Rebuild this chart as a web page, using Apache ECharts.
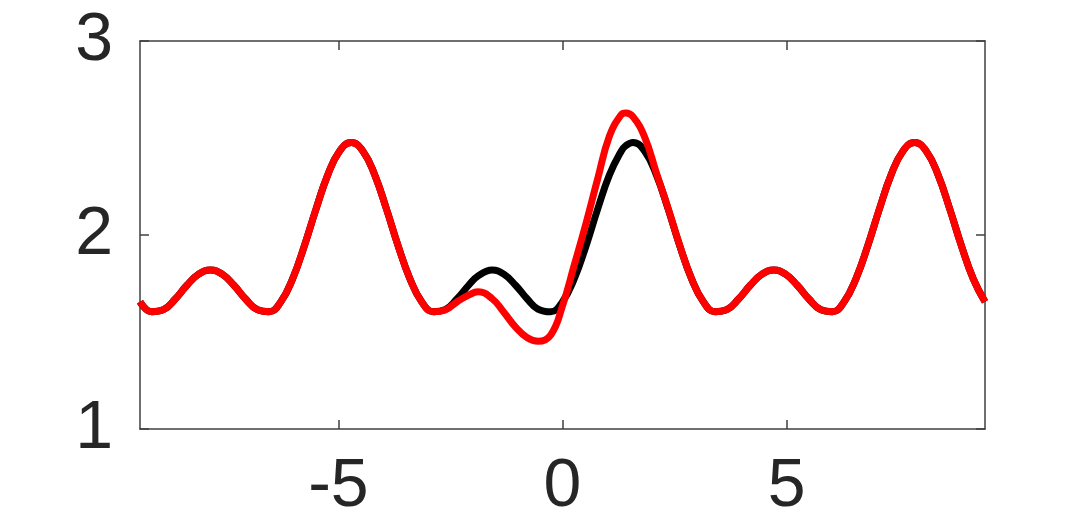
<!DOCTYPE html>
<html>
<head>
<meta charset="utf-8">
<script src="https://cdn.jsdelivr.net/npm/echarts@6/dist/echarts.min.js"></script>
<style>
html,body{margin:0;padding:0;background:#fff;}
#chart{width:1087px;height:529px;}
</style>
</head>
<body>
<div id="chart"></div>
<script>
// sample positions along x
var xValues = [
 -9.425,-9.163,-8.901,-8.639,-8.378,-8.116,-7.854,-7.592,-7.330,-7.069,-6.807,-6.545,
 -6.283,-6.021,-5.760,-5.498,-5.236,-4.974,-4.712,-4.451,-4.189,-3.927,-3.665,-3.403,
 -3.142,-2.880,-2.618,-2.356,-2.094,-1.882,-1.571,-1.309,-1.047,-0.785,-0.547,-0.262,
 0,0.262,0.524,0.785,1.047,1.309,1.410,1.571,1.833,2.094,2.356,2.618,2.880,
 3.142,3.403,3.665,3.927,4.189,4.451,4.712,4.974,5.236,5.498,5.760,6.021,
 6.283,6.545,6.807,7.069,7.330,7.592,7.854,8.116,8.378,8.639,8.901,9.163,9.425
];
// black curve
var blackValues = [
 1.656,1.604,1.615,1.670,1.741,1.798,1.820,1.798,1.741,1.670,1.615,1.604,
 1.656,1.774,1.943,2.134,2.310,2.432,2.477,2.432,2.310,2.134,1.943,1.774,
 1.656,1.604,1.615,1.670,1.741,1.789,1.820,1.798,1.741,1.670,1.618,1.604,
 1.656,1.774,1.943,2.134,2.310,2.432,2.460,2.477,2.432,2.310,2.134,1.943,1.774,
 1.656,1.604,1.615,1.670,1.741,1.798,1.820,1.798,1.741,1.670,1.615,1.604,
 1.656,1.774,1.943,2.134,2.310,2.432,2.477,2.432,2.310,2.134,1.943,1.774,
 1.656
];
// red curve
var redValues = [
 1.656,1.604,1.615,1.670,1.741,1.798,1.820,1.798,1.741,1.670,1.615,1.604,
 1.656,1.774,1.943,2.134,2.310,2.432,2.477,2.432,2.310,2.134,1.943,1.774,
 1.656,1.604,1.613,1.655,1.690,1.707,1.672,1.602,1.525,1.470,1.452,1.485,
 1.635,1.845,2.060,2.290,2.510,2.620,2.629,2.610,2.505,2.320,2.138,1.944,1.774,
 1.656,1.604,1.615,1.670,1.741,1.798,1.820,1.798,1.741,1.670,1.615,1.604,
 1.656,1.774,1.943,2.134,2.310,2.432,2.477,2.432,2.310,2.134,1.943,1.774,
 1.656
];
var xTicks = [-5, 0, 5];
var yTicks = [1, 2, 3];

function pairs(ys){ return xValues.map(function(x,i){ return [x, ys[i]]; }); }

var axisColor = '#404040';
var labelColor = '#262626';
var labelFont = 'Liberation Sans, Arial, Helvetica, sans-serif';
var xMin = -3 * Math.PI, xMax = 3 * Math.PI;

function xAxisCfg(pos, showLabel){
  return {
    type:'value', position:pos, min:xMin, max:xMax,
    axisLine:{show:true, onZero:false, lineStyle:{color:axisColor, width:1.5}},
    axisTick:{show:true, inside:true, length:9, customValues:xTicks, lineStyle:{color:axisColor, width:1.5}},
    axisLabel:{show:showLabel, customValues:xTicks, fontSize:68, fontFamily:labelFont, color:labelColor, margin:24},
    splitLine:{show:false}
  };
}
function yAxisCfg(pos, showLabel){
  return {
    type:'value', position:pos, min:yTicks[0], max:yTicks[yTicks.length-1], interval:1,
    axisLine:{show:true, onZero:false, lineStyle:{color:axisColor, width:1.5}},
    axisTick:{show:true, inside:true, length:9, lineStyle:{color:axisColor, width:1.5}},
    axisLabel:{show:showLabel, fontSize:68, fontFamily:labelFont, color:labelColor, margin:27},
    splitLine:{show:false}
  };
}

var chart = echarts.init(document.getElementById('chart'), null, {renderer:'canvas'});
chart.setOption({
  animation:false,
  backgroundColor:'#ffffff',
  grid:{left:140, right:102, top:41, bottom:100, containLabel:false},
  xAxis:[xAxisCfg('bottom', true), xAxisCfg('top', false)],
  yAxis:[yAxisCfg('left', true), yAxisCfg('right', false)],
  series:[
    {name:'black', type:'line', xAxisIndex:0, yAxisIndex:0, data:pairs(blackValues), showSymbol:false, symbol:'none', smooth:0.45,
     lineStyle:{color:'#000000', width:7, join:'round'}},
    {name:'red', type:'line', xAxisIndex:0, yAxisIndex:0, data:pairs(redValues), showSymbol:false, symbol:'none', smooth:0.45,
     lineStyle:{color:'#ff0000', width:7, join:'round'}}
  ]
});
</script>
</body>
</html>
